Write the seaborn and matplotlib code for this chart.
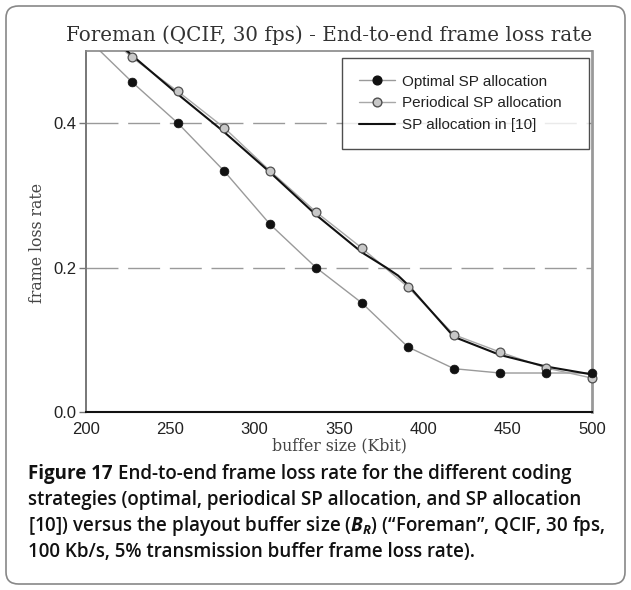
import numpy as np
import pandas as pd
import matplotlib
matplotlib.use('Agg')
import matplotlib.pyplot as plt
import seaborn as sns
from matplotlib.lines import Line2D
from matplotlib.patches import FancyBboxPatch

# ---- data ----
buffer_kbit = [200, 227.3, 254.5, 281.8, 309.1, 336.4, 363.6, 390.9, 418.2, 445.5, 472.7, 500]
optimal = [0.519, 0.457, 0.400, 0.334, 0.260, 0.200, 0.151, 0.090, 0.060, 0.054, 0.054, 0.054]
periodical = [0.548, 0.491, 0.444, 0.394, 0.334, 0.277, 0.227, 0.173, 0.107, 0.083, 0.061, 0.047]

ref10_kbit = [200, 227.3, 254.5, 281.8, 309.1, 336.4, 363.6, 378, 385, 390.9, 418.2, 445.5, 472.7, 500]
ref10 = [0.549, 0.494, 0.440, 0.388, 0.332, 0.273, 0.221, 0.200, 0.189, 0.176, 0.104, 0.079, 0.063, 0.052]

labels = ['Optimal SP allocation', 'Periodical SP allocation', 'SP allocation in [10]']
x_ticks = [200, 250, 300, 350, 400, 450, 500]
y_ticks = [0.0, 0.2, 0.4]

caption_lines = [
    'strategies (optimal, periodical SP allocation, and SP allocation',
    '[10]) versus the playout buffer size ($B_R$) (\u201cForeman\u201d, QCIF, 30 fps,',
    '100 Kb/s, 5% transmission buffer frame loss rate).',
]

sns.set_style('white')
plt.rcParams['mathtext.fontset'] = 'custom'
plt.rcParams['mathtext.it'] = 'Open Sans:italic:bold'
plt.rcParams['mathtext.rm'] = 'Open Sans:bold'

W, H = 631, 590
fig = plt.figure(figsize=(W / 100, H / 100), dpi=100)
ax = fig.add_axes([86 / W, 1 - 412 / H, (592 - 86) / W, (412 - 51) / H])

df = pd.DataFrame({'buffer': buffer_kbit, 'optimal': optimal, 'periodical': periodical})
df_ref = pd.DataFrame({'buffer': ref10_kbit, 'ref10': ref10})
pts = df[df['buffer'] > 200]

# lines
sns.lineplot(data=df, x='buffer', y='optimal', color='#9a9a9a', lw=1.0, ax=ax, zorder=2)
sns.lineplot(data=df, x='buffer', y='periodical', color='#a8a8a8', lw=1.0, ax=ax, zorder=2)
sns.lineplot(data=df_ref, x='buffer', y='ref10', color='#111111', lw=1.5, ax=ax, zorder=3)

# markers (not clipped at the right spine)
sns.scatterplot(data=pts, x='buffer', y='periodical', color='#c8c8c8', edgecolor='#505050',
                linewidth=0.9, s=40, ax=ax, zorder=4, clip_on=False)
sns.scatterplot(data=pts, x='buffer', y='optimal', color='#111111', edgecolor='#111111',
                linewidth=0.5, s=40, ax=ax, zorder=5, clip_on=False)

ax.set_xlim(200, 500)
ax.set_ylim(0, 0.5)
ax.set_xticks(x_ticks)
ax.set_yticks(y_ticks)
ax.set_yticklabels([f'{v:.1f}' for v in y_ticks])
tick_font = ['Liberation Sans Narrow', 'Liberation Sans', 'DejaVu Sans']
for t in ax.get_xticklabels() + ax.get_yticklabels():
    t.set_family(tick_font)
    t.set_fontsize(12)
    t.set_color('#222222')
ax.tick_params(axis='x', length=0, pad=7)
ax.tick_params(axis='y', length=5, width=1, color='#777777', pad=2, direction='out', left=True)

for y in [0.2, 0.4]:
    ax.axhline(y, color='#9a9a9a', lw=1.0, ls=(0, (23, 7)), zorder=1)

ax.spines['left'].set_color('#777777')
ax.spines['left'].set_linewidth(1.4)
ax.spines['top'].set_color('#888888')
ax.spines['top'].set_linewidth(1.2)
ax.spines['right'].set_color('#999999')
ax.spines['right'].set_linewidth(2.0)
ax.spines['bottom'].set_color('#111111')
ax.spines['bottom'].set_linewidth(1.5)

ax.set_xlabel('buffer size (Kbit)', family='DejaVu Serif', fontsize=11.3, color='#444444')
ax.set_ylabel('frame loss rate', family='DejaVu Serif', fontsize=11.3, color='#444444')
ax.xaxis.set_label_coords(0.5, -0.07)
ax.yaxis.set_label_coords(-0.08, 0.468)

handles = [
    Line2D([], [], color='#9a9a9a', lw=1.0, marker='o', markersize=6.3,
           markerfacecolor='#111111', markeredgecolor='#111111'),
    Line2D([], [], color='#a8a8a8', lw=1.0, marker='o', markersize=6.3,
           markerfacecolor='#c8c8c8', markeredgecolor='#505050'),
    Line2D([], [], color='#111111', lw=1.5),
]
leg = ax.legend(handles, labels, loc='upper left', mode='expand',
                bbox_to_anchor=((342 - 86) / 506, 0.3, 247 / 506, (412 - 58) / 361 - 0.3),
                borderaxespad=0, frameon=True, fancybox=False, handlelength=2.4,
                handletextpad=0.4, labelspacing=0.5, borderpad=1.1,
                prop={'family': tick_font, 'size': 11})
leg.get_frame().set_edgecolor('#222222')
leg.get_frame().set_linewidth(1.0)
leg.set_zorder(6)
for t in leg.get_texts():
    t.set_color('#222222')

fig.text(329 / W, 1 - 35 / H, 'Foreman (QCIF, 30 fps) - End-to-end frame loss rate',
         family='DejaVu Serif', fontsize=14.3, color='#333333', ha='center', va='center')

# caption
cap_font = ['Open Sans', 'DejaVu Sans']
cap_size = 13.5
cap_y = [474, 500, 526, 552]
first = fig.text(28 / W, 1 - cap_y[0] / H, 'Figure 17', family=cap_font, fontsize=cap_size,
                 fontweight='bold', color='#111111', ha='left', va='center')
fig.canvas.draw()
bb = first.get_window_extent()
fig.text(bb.x1 / W + 5 / W, 1 - cap_y[0] / H, 'End-to-end frame loss rate for the different coding',
         family=cap_font, fontsize=cap_size, fontweight='semibold', color='#111111',
         ha='left', va='center')
for line, y in zip(caption_lines, cap_y[1:]):
    fig.text(28 / W, 1 - y / H, line, family=cap_font, fontsize=cap_size, fontweight='semibold',
             color='#111111', ha='left', va='center')

# rounded outer border
border = FancyBboxPatch((6 / W, 6 / H), 619 / W, 578 / H, boxstyle='round,pad=0,rounding_size=0.02',
                        transform=fig.transFigure, fill=False, edgecolor='#888888', lw=1.2)
fig.patches.append(border)

fig.savefig('out.png', dpi=100)
